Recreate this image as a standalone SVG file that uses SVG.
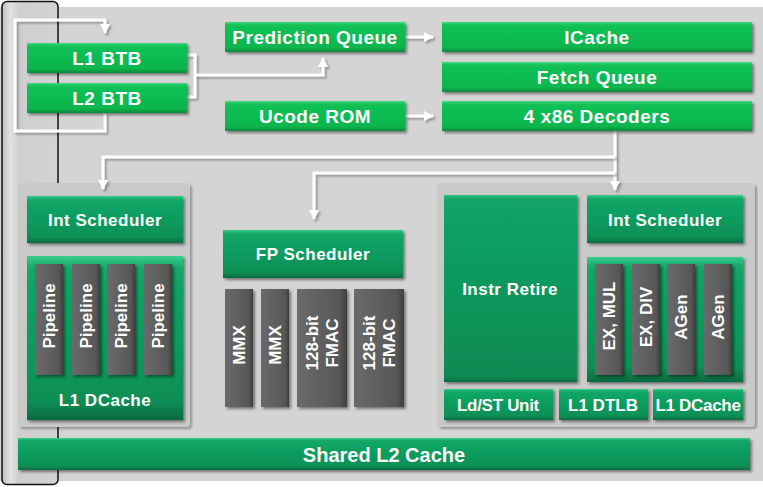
<svg xmlns="http://www.w3.org/2000/svg" width="763" height="487" viewBox="0 0 763 487">
<defs>
<linearGradient id="gBright" x1="0" y1="0" x2="0" y2="1">
<stop offset="0" stop-color="#46d884"/><stop offset="0.1" stop-color="#12c157"/><stop offset="0.85" stop-color="#0cb54e"/><stop offset="1" stop-color="#06893a"/>
</linearGradient>
<linearGradient id="gTeal" x1="0" y1="0" x2="0" y2="1">
<stop offset="0" stop-color="#38cc8a"/><stop offset="0.08" stop-color="#12a867"/><stop offset="0.88" stop-color="#0b8f56"/><stop offset="1" stop-color="#066b3f"/>
</linearGradient>
<linearGradient id="gTealTall" x1="0" y1="0" x2="0" y2="1">
<stop offset="0" stop-color="#30c483"/><stop offset="0.02" stop-color="#12a567"/><stop offset="0.97" stop-color="#0b8a52"/><stop offset="1" stop-color="#066b3f"/>
</linearGradient>
<linearGradient id="gGray" x1="0" y1="0" x2="1" y2="0">
<stop offset="0" stop-color="#6a6a6a"/><stop offset="0.85" stop-color="#575757"/><stop offset="1" stop-color="#3e3e3e"/>
</linearGradient>
<linearGradient id="gStrip" x1="0" y1="0" x2="1" y2="0">
<stop offset="0" stop-color="#bdbdbd"/><stop offset="0.15" stop-color="#e2e2e2"/><stop offset="0.3" stop-color="#cfcfcf"/><stop offset="1" stop-color="#d2d2d2"/>
</linearGradient>
<filter id="sh" x="-10%" y="-20%" width="130%" height="160%">
<feDropShadow dx="2" dy="2" stdDeviation="1.5" flood-color="#000" flood-opacity="0.45"/>
</filter>
<filter id="shl" filterUnits="userSpaceOnUse" x="0" y="0" width="763" height="487">
<feDropShadow dx="2" dy="2" stdDeviation="1.2" flood-color="#000" flood-opacity="0.3"/>
</filter>
<marker id="ar" markerUnits="userSpaceOnUse" markerWidth="10" markerHeight="10" refX="9" refY="5" orient="auto" viewBox="0 0 10 10">
<path d="M0,0 L10,5 L0,10 z" fill="#ffffff"/>
</marker>
</defs>
<style>
.b{fill:url(#gBright);filter:url(#sh)}
.t{fill:url(#gTeal);filter:url(#sh)}
.tt{fill:url(#gTealTall);filter:url(#sh)}
.g{fill:url(#gGray);filter:url(#sh)}
.lbl{font-family:"Liberation Sans",Arial,sans-serif;font-weight:bold;fill:#ffffff;text-anchor:middle;dominant-baseline:central}
.f19{font-size:19px;letter-spacing:0.5px}
.f17{font-size:17px;letter-spacing:0.5px}
.f17n{font-size:17px;letter-spacing:-0.3px}
.r{font-size:17px}
.f20{font-size:20px}
.c{fill:none;stroke:#ffffff;stroke-width:3;filter:url(#shl)}
.cluster{fill:#c9c9c9;filter:url(#shl)}
</style>
<rect x="0" y="0" width="763" height="487" fill="#ffffff"/>
<rect x="0" y="7" width="763" height="474" fill="#d4d4d4"/>
<rect id="strip" x="2" y="1.5" width="56" height="483" rx="5" fill="url(#gStrip)" stroke="#111" stroke-width="1.5"/>
<rect x="18" y="183" width="172" height="244" rx="4" class="cluster"/>
<rect x="437" y="183" width="318" height="244" rx="4" class="cluster"/>

<g id="connectors">
<path class="c" d="M105,113 V131 H15 V20 H105 V33" marker-end="url(#ar)"/>
<path class="c" d="M187,55 H195 V97 H187"/>
<path class="c" d="M195,75 H323 V58" marker-end="url(#ar)"/>
<path class="c" d="M405,37 H433" marker-end="url(#ar)"/>
<path class="c" d="M405,116 H433" marker-end="url(#ar)"/>
<path class="c" d="M615,131 V190" marker-end="url(#ar)"/>
<path class="c" d="M615,157 H103 V189" marker-end="url(#ar)"/>
<path class="c" d="M615,173 H314 V219" marker-end="url(#ar)"/>
</g>

<g id="l1btb"><rect class="b" x="27" y="43" width="160" height="30"/><text class="lbl f19" x="107" y="58">L1 BTB</text></g>
<g id="l2btb"><rect class="b" x="27" y="83" width="160" height="30"/><text class="lbl f19" x="107" y="98">L2 BTB</text></g>
<g id="predq"><rect class="b" x="225" y="22" width="180" height="30"/><text class="lbl f19" x="315" y="37">Prediction Queue</text></g>
<g id="ucode"><rect class="b" x="225" y="101" width="180" height="30"/><text class="lbl f19" x="315" y="116">Ucode ROM</text></g>
<g id="icache"><rect class="b" x="442" y="22" width="310" height="30"/><text class="lbl f19" x="597" y="37">ICache</text></g>
<g id="fetchq"><rect class="b" x="442" y="62" width="310" height="30"/><text class="lbl f19" x="597" y="77">Fetch Queue</text></g>
<g id="decoders"><rect class="b" x="442" y="101" width="310" height="30"/><text class="lbl f19" x="597" y="116">4 x86 Decoders</text></g>

<g id="intsched1"><rect class="t" x="27" y="196" width="156" height="47"/><text class="lbl f17" x="105" y="220">Int Scheduler</text></g>
<g id="l1dcache1"><rect class="t" x="27" y="256" width="156" height="164"/><text class="lbl f17" x="105" y="400">L1 DCache</text></g>
<g id="pipe1"><rect class="g" x="35" y="264" width="28" height="111"/><text class="lbl r" transform="translate(49,316) rotate(-90)">Pipeline</text></g>
<g id="pipe2"><rect class="g" x="72" y="264" width="28" height="111"/><text class="lbl r" transform="translate(86,316) rotate(-90)">Pipeline</text></g>
<g id="pipe3"><rect class="g" x="107" y="264" width="28" height="111"/><text class="lbl r" transform="translate(121,316) rotate(-90)">Pipeline</text></g>
<g id="pipe4"><rect class="g" x="144" y="264" width="28" height="111"/><text class="lbl r" transform="translate(158,316) rotate(-90)">Pipeline</text></g>

<g id="fpsched"><rect class="t" x="223" y="230" width="180" height="48"/><text class="lbl f17" x="313" y="254">FP Scheduler</text></g>
<g id="mmx1"><rect class="g" x="225" y="289" width="28" height="118"/><text class="lbl r" transform="translate(239,345) rotate(-90)">MMX</text></g>
<g id="mmx2"><rect class="g" x="261" y="289" width="28" height="118"/><text class="lbl r" transform="translate(275,345) rotate(-90)">MMX</text></g>
<g id="fmac1"><rect class="g" x="297" y="289" width="50" height="118"/><text class="lbl r" transform="translate(322,343) rotate(-90)"><tspan x="0" y="-10">128-bit</tspan><tspan x="0" y="10">FMAC</tspan></text></g>
<g id="fmac2"><rect class="g" x="354" y="289" width="50" height="118"/><text class="lbl r" transform="translate(379,343) rotate(-90)"><tspan x="0" y="-10">128-bit</tspan><tspan x="0" y="10">FMAC</tspan></text></g>

<g id="retire"><rect class="tt" x="444" y="195" width="133" height="187"/><text class="lbl f17" x="510" y="289">Instr Retire</text></g>
<g id="intsched2"><rect class="t" x="587" y="195" width="156" height="48"/><text class="lbl f17" x="665" y="220">Int Scheduler</text></g>
<g id="exbox"><rect class="t" x="587" y="257" width="156" height="125"/></g>
<g id="exmul"><rect class="g" x="595" y="264" width="28" height="111"/><text class="lbl r" transform="translate(609,316) rotate(-90)">EX, MUL</text></g>
<g id="exdiv"><rect class="g" x="632" y="264" width="28" height="111"/><text class="lbl r" transform="translate(646,317) rotate(-90)">EX, DIV</text></g>
<g id="agen1"><rect class="g" x="667" y="264" width="28" height="111"/><text class="lbl r" transform="translate(681,317) rotate(-90)">AGen</text></g>
<g id="agen2"><rect class="g" x="704" y="264" width="28" height="111"/><text class="lbl r" transform="translate(718,317) rotate(-90)">AGen</text></g>
<g id="ldst"><rect class="t" x="444" y="389" width="109" height="31"/><text class="lbl f17n" x="498" y="405">Ld/ST Unit</text></g>
<g id="dtlb"><rect class="t" x="559" y="389" width="89" height="31"/><text class="lbl r" x="603" y="405">L1 DTLB</text></g>
<g id="l1dcache2"><rect class="t" x="653" y="389" width="90" height="31"/><text class="lbl f17n" x="698" y="405">L1 DCache</text></g>

<g id="l2cache"><rect class="t" x="18" y="438" width="732" height="32"/><text class="lbl f20" x="384" y="455">Shared L2 Cache</text></g>
</svg>
